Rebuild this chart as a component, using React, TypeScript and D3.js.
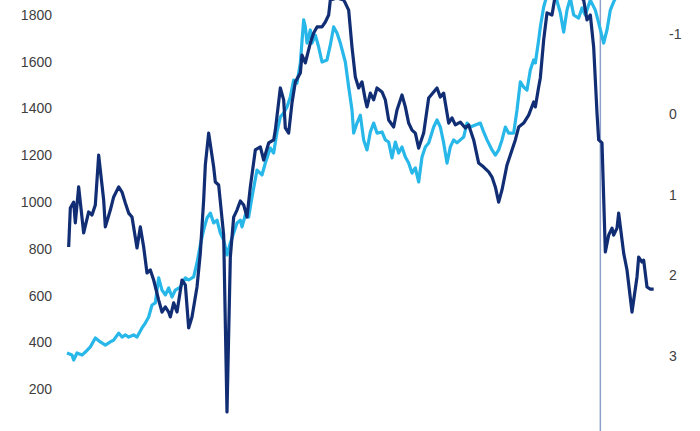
import React, { useEffect, useRef } from "react";
import * as d3 from "d3";

// monthly series, months counted from the first observation
const navyMonths = [
  1, 2, 4, 5, 7, 10, 13, 15, 17, 19, 22, 23, 26, 28, 31, 33, 35, 37, 39, 42,
  44, 46, 48, 50, 52, 55, 57, 59, 61, 62, 64, 66, 69, 71, 73, 75, 78, 80, 82, 83,
  85, 88, 89, 91, 94, 96, 98, 100, 102, 104, 106, 108, 110, 113, 116, 118, 121, 124, 125, 128,
  130, 131, 133, 135, 137, 140, 141, 143, 146, 148, 150, 153, 155, 157, 158, 162, 166, 167, 169, 171,
  173, 175, 177, 179, 180, 182, 184, 186, 189, 191, 193, 196, 198, 201, 203, 205, 207, 209, 211, 214,
  217, 220, 222, 224, 226, 229, 231, 233, 236, 239, 241, 244, 247, 250, 253, 255, 257, 259, 261, 264,
  266, 269, 271, 274, 277, 280, 281, 283, 284, 286, 288, 291, 293, 299, 305, 310, 312, 314, 316, 318,
  319, 321, 323, 325, 327, 328, 330, 331, 334, 336, 339, 342, 343, 345, 346, 348, 350, 352,
];
const navyValues = [
  808, 975, 1000, 911, 1065, 868, 958, 945, 988, 1201, 1009, 894, 966, 1022, 1065, 1043, 996, 953, 936, 804,
  894, 808, 697, 710, 667, 581, 530, 552, 530, 509, 569, 530, 667, 646, 462, 509, 637, 782, 1009, 1159,
  1295, 1150, 1086, 1073, 859, 103, 765, 936, 966, 1005, 988, 936, 1065, 1223, 1236, 1180, 1253, 1266, 1308, 1488,
  1437, 1317, 1295, 1424, 1514, 1552, 1629, 1595, 1680, 1723, 1749, 1749, 1770, 1800, 1864, 1873, 1864, 1851, 1821, 1663,
  1535, 1488, 1514, 1437, 1407, 1466, 1437, 1488, 1471, 1437, 1351, 1321, 1394, 1458, 1407, 1338, 1308, 1295, 1231, 1295,
  1445, 1471, 1488, 1449, 1466, 1338, 1360, 1330, 1342, 1317, 1330, 1266, 1167, 1150, 1129, 1107, 1065, 1000, 1052, 1159,
  1201, 1266, 1321, 1338, 1372, 1428, 1407, 1492, 1531, 1693, 1809, 1800, 1885, 1907, 1898, 1864, 1779, 1800, 1663, 1381,
  1266, 1253, 787, 859, 889, 859, 889, 953, 782, 710, 530, 680, 765, 744, 752, 637, 628, 628,
];

const lightMonths = [
  0, 3, 4, 6, 9, 11, 14, 17, 20, 23, 26, 28, 31, 33, 35, 37, 40, 42, 45, 47,
  49, 51, 53, 55, 57, 59, 61, 63, 65, 68, 71, 73, 76, 78, 80, 82, 84, 86, 88, 90,
  92, 94, 96, 98, 100, 102, 104, 105, 107, 109, 111, 114, 117, 119, 122, 124, 126, 128, 130, 132,
  134, 136, 138, 140, 142, 143, 144, 146, 147, 149, 151, 153, 156, 158, 160, 162, 164, 167, 169, 171,
  172, 174, 176, 178, 180, 182, 184, 186, 189, 191, 193, 195, 197, 199, 201, 203, 205, 207, 209, 211,
  213, 215, 217, 220, 222, 224, 226, 228, 230, 232, 234, 236, 238, 240, 242, 245, 248, 250, 252, 255,
  257, 259, 261, 263, 265, 268, 270, 272, 274, 276, 278, 280, 281, 283, 284, 286, 288, 293, 296, 298,
  300, 302, 304, 307, 309, 311, 314, 317, 319, 322, 324, 326, 328, 330, 333,
];
const lightValues = [
  355, 346, 325, 355, 346, 359, 381, 419, 402, 389, 402, 410, 440, 423, 432, 423, 432, 423, 462, 483,
  509, 560, 569, 676, 624, 603, 633, 594, 624, 637, 676, 667, 680, 740, 817, 881, 932, 953, 911, 923,
  868, 838, 774, 825, 868, 911, 923, 894, 945, 936, 1022, 1137, 1116, 1167, 1231, 1210, 1300, 1364, 1381, 1407,
  1449, 1522, 1509, 1595, 1779, 1749, 1680, 1736, 1680, 1714, 1663, 1599, 1608, 1672, 1749, 1723, 1680, 1599, 1492, 1394,
  1295, 1338, 1372, 1266, 1223, 1300, 1338, 1295, 1300, 1266, 1257, 1189, 1257, 1210, 1236, 1193, 1167, 1124, 1146, 1086,
  1193, 1236, 1253, 1321, 1351, 1321, 1253, 1167, 1236, 1266, 1253, 1266, 1278, 1338, 1321, 1330, 1338, 1300, 1266, 1223,
  1201, 1223, 1266, 1321, 1295, 1295, 1394, 1514, 1492, 1479, 1565, 1608, 1595, 1693, 1749, 1834, 1885, 1885, 1809, 1727,
  1821, 1873, 1800, 1787, 1830, 1800, 1864, 1821, 1766, 1680, 1736, 1821, 1856, 1885, 1928,
];

const leftTicks = [0, 200, 400, 600, 800, 1000, 1200, 1400, 1600, 1800];
const rightTicks = [-1, 0, 1, 2, 3, 4];
const markerMonth = 320;

const W = 700;
const H = 431;

type Pt = { m: number; v: number };

const App = () => {
  const ref = useRef<SVGSVGElement>(null);

  useEffect(() => {
    if (!ref.current) return;
    const svg = d3.select(ref.current);
    svg.selectAll("*").remove();

    const x = d3.scaleLinear().domain([0, 351]).range([67, 652]);
    const y = d3.scaleLinear().domain([0, 1800]).range([436, 15]);
    const yRight = d3.scaleLinear().domain([-1, 3]).range([34, 356]);

    const navy: Pt[] = navyMonths.map((m, i) => ({ m, v: navyValues[i] }));
    const light: Pt[] = lightMonths.map((m, i) => ({ m, v: lightValues[i] }));

    const line = d3
      .line<Pt>()
      .x((d) => x(d.m))
      .y((d) => y(d.v));

    const font = "'Liberation Sans', Arial, sans-serif";

    // left axis labels
    svg
      .append("g")
      .selectAll("text")
      .data(leftTicks)
      .join("text")
      .attr("x", 52)
      .attr("y", (d) => y(d))
      .attr("dy", "0.35em")
      .attr("text-anchor", "end")
      .attr("font-family", font)
      .attr("font-size", 14)
      .attr("fill", "#404040")
      .text((d) => d);

    // right (inverted) axis labels
    svg
      .append("g")
      .selectAll("text")
      .data(rightTicks)
      .join("text")
      .attr("x", 669)
      .attr("y", (d) => yRight(d))
      .attr("dy", "0.35em")
      .attr("text-anchor", "start")
      .attr("font-family", font)
      .attr("font-size", 14)
      .attr("fill", "#404040")
      .text((d) => d);

    // vertical marker
    svg
      .append("line")
      .attr("x1", x(markerMonth))
      .attr("x2", x(markerMonth))
      .attr("y1", 0)
      .attr("y2", H)
      .attr("stroke", "#8e9fcc")
      .attr("stroke-width", 1.5);

    svg
      .append("path")
      .datum(light)
      .attr("d", line)
      .attr("fill", "none")
      .attr("stroke", "#27b7e9")
      .attr("stroke-width", 3.2)
      .attr("stroke-linejoin", "round");

    svg
      .append("path")
      .datum(navy)
      .attr("d", line)
      .attr("fill", "none")
      .attr("stroke", "#112d74")
      .attr("stroke-width", 3.2)
      .attr("stroke-linejoin", "round");
  }, []);

  return (
    <svg
      ref={ref}
      width={W}
      height={H}
      style={{ position: "absolute", left: 0, top: 0, background: "#fff" }}
    />
  );
};

export default App;
